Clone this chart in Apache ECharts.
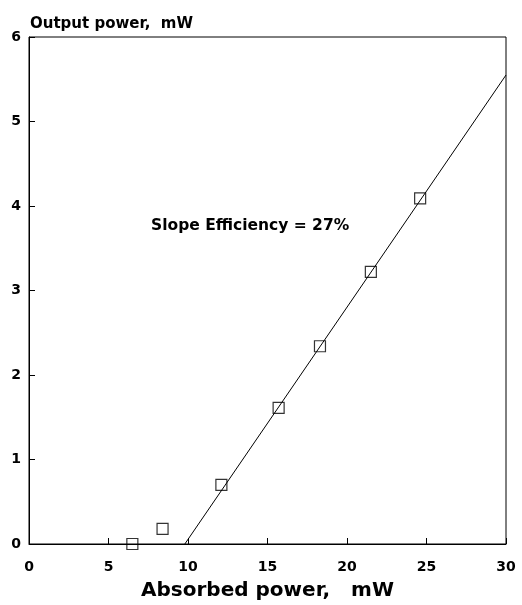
<!DOCTYPE html>
<html><head><meta charset="utf-8">
<script src="https://cdn.jsdelivr.net/npm/echarts@6/dist/echarts.min.js"></script>
<style>html,body{margin:0;padding:0;background:#fff}#c{width:522px;height:605px}</style>
</head><body><div id="c"></div>
<script>
const absorbed = [6.5, 8.4, 12.1, 15.7, 18.3, 21.5, 24.6];
const output = [0.0, 0.18, 0.7, 1.61, 2.34, 3.22, 4.09];
const fitX = [9.8, 30];
const fitY = [0, 5.55];
const xTicks = [0, 5, 10, 15, 20, 25, 30];
const yTicks = [0, 1, 2, 3, 4, 5, 6];

const font = '"DejaVu Sans", "Liberation Sans", Arial, sans-serif';
const chart = echarts.init(document.getElementById('c'), null, {renderer: 'canvas'});
chart.setOption({
  animation: false,
  backgroundColor: '#fff',
  grid: {left: 29, right: 16, top: 37, bottom: 61, show: true, borderColor: '#000', borderWidth: 1,
    outerBoundsMode: 'none', containLabel: false},
  title: [
    {text: 'Output power,  mW', left: 25, top: 12, textStyle: {fontFamily: font, fontWeight: 'bold', fontSize: 15, color: '#000'}},
    {text: 'Slope Efficiency = 27%', left: 146, top: 213, textStyle: {fontFamily: font, fontWeight: 'bold', fontSize: 15.5, color: '#000'}}
  ],
  xAxis: {
    type: 'value', min: 0, max: 30, interval: 5,
    name: 'Absorbed power,   mW', nameLocation: 'middle', nameGap: 37,
    nameTextStyle: {fontFamily: font, fontWeight: 'bold', fontSize: 20, color: '#000'},
    axisLine: {lineStyle: {color: '#000', width: 1}},
    axisTick: {inside: true, length: 6, lineStyle: {color: '#000'}},
    axisLabel: {margin: 16, fontFamily: font, fontWeight: 'bold', fontSize: 14, color: '#000',
      formatter: v => xTicks.includes(v) ? String(v) : ''},
    splitLine: {show: false}
  },
  yAxis: {
    type: 'value', min: 0, max: 6, interval: 1,
    axisLine: {show: true, lineStyle: {color: '#000', width: 1}},
    axisTick: {show: true, inside: true, length: 6, lineStyle: {color: '#000'}},
    axisLabel: {margin: 8, fontFamily: font, fontWeight: 'bold', fontSize: 14, color: '#000',
      formatter: v => yTicks.includes(v) ? String(v) : ''},
    splitLine: {show: false}
  },
  series: [
    {type: 'line', data: fitX.map((x, i) => [x, fitY[i]]), showSymbol: false, symbol: 'none',
      lineStyle: {color: '#000', width: 1}, z: 3},
    {type: 'scatter', data: absorbed.map((x, i) => [x, output[i]]), symbol: 'rect', symbolSize: 11,
      itemStyle: {color: 'rgba(255,255,255,0)', borderColor: '#000', borderWidth: 1.2}, z: 4}
  ]
});
</script></body></html>
